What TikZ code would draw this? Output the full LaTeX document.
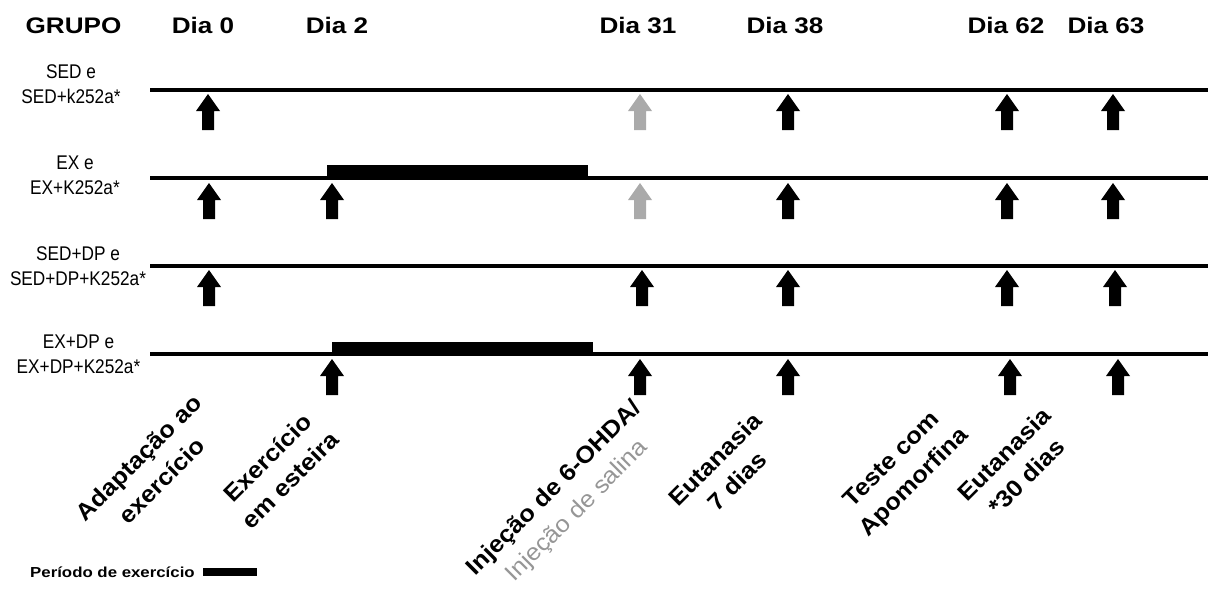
\documentclass[tikz,border=0pt]{standalone}
\usepackage{fontspec}
\setmainfont{Liberation Sans}
\newfontfamily\widefont[FakeStretch=1.16]{Liberation Sans}
\newfontfamily\rotfont[FakeStretch=1.08]{Liberation Sans}
\newfontfamily\narrowfont[FakeStretch=0.87]{Liberation Sans}
\definecolor{arrgray}{RGB}{170,170,170}
\definecolor{txtgray}{RGB}{150,150,150}
\tikzset{
  uparr/.pic={\fill[black] (0,0) -- (12,17) -- (6,17) -- (6,36) -- (-6,36) -- (-6,17) -- (-12,17) -- cycle;},
  uparrgray/.pic={\fill[arrgray] (0,0) -- (12,17) -- (6,17) -- (6,36) -- (-6,36) -- (-6,17) -- (-12,17) -- cycle;},
  hdr/.style={anchor=base,inner sep=0pt,font=\widefont\bfseries\fontsize{22.5}{27}\selectfont},
  grp/.style={align=center,inner sep=0pt,font=\narrowfont\fontsize{19.8}{25}\selectfont},
  rotlab/.style={rotate=45,align=center,inner sep=0pt,font=\rotfont\bfseries\fontsize{23.5}{32}\selectfont},
  tline/.style={line width=4pt},
  exbar/.style={fill=black}
}
\begin{document}
\begin{tikzpicture}[x=1pt,y=-1pt]
\useasboundingbox (0,0) rectangle (1208,592);
% header
\node[hdr] (hgrupo) at (73.5,33) {GRUPO};
\node[hdr] (h0) at (203,33) {Dia 0};
\node[hdr] (h2) at (337,33) {Dia 2};
\node[hdr] (h31) at (638,33) {Dia 31};
\node[hdr] (h38) at (785,33) {Dia 38};
\node[hdr] (h62) at (1006,33) {Dia 62};
\node[hdr] (h63) at (1106,33) {Dia 63};
% group labels
\node[grp] (g1) at (71,84.5) {SED e\\SED+k252a*};
\node[grp] (g2) at (75,175) {EX e\\EX+K252a*};
\node[grp] (g3) at (78,266.5) {SED+DP e\\SED+DP+K252a*};
\node[grp] (g4) at (78.5,354) {EX+DP e\\EX+DP+K252a*};
% timelines
\draw[tline] (150,90) -- (1208,90);
\draw[tline] (150,177.5) -- (1208,177.5);
\draw[tline] (150,265.5) -- (1208,265.5);
\draw[tline] (150,353.5) -- (1208,353.5);
% exercise bars
\fill[exbar] (327,165) rectangle (588,178);
\fill[exbar] (332,342) rectangle (593,353);
% arrows row 1
\pic at (208,94) {uparr};
\pic at (640,94) {uparrgray};
\pic at (788,94) {uparr};
\pic at (1007,94) {uparr};
\pic at (1113,94) {uparr};
% arrows row 2
\pic at (209,183) {uparr};
\pic at (332,183) {uparr};
\pic at (640,183) {uparrgray};
\pic at (788,183) {uparr};
\pic at (1007,183) {uparr};
\pic at (1113,183) {uparr};
% arrows row 3
\pic at (209,270) {uparr};
\pic at (642,270) {uparr};
\pic at (788,270) {uparr};
\pic at (1007,270) {uparr};
\pic at (1115,270) {uparr};
% arrows row 4
\pic at (332,359) {uparr};
\pic at (640,359) {uparr};
\pic at (788,359) {uparr};
\pic at (1010,359) {uparr};
\pic at (1118,359) {uparr};
% rotated labels
\node[rotlab] (l0) at (150,469) {Adaptação ao\\exercício};
\node[rotlab] (l2) at (279,469) {Exercício\\em esteira};
\node[rotlab] (l31) at (566,500) {Injeção de 6-OHDA/\\{\mdseries\color{txtgray}Injeção de salina}};
\node[rotlab] (l38) at (726,470) {Eutanasia\\7 dias};
\node[rotlab] (l62) at (904,472) {Teste com\\Apomorfina};
\node[rotlab] (l63) at (1015,465) {Eutanasia\\*30 dias};
% legend
\node[anchor=base west,inner sep=0pt,font=\widefont\bfseries\fontsize{14.5}{18}\selectfont] (leg) at (30,577) {Período de exercício};
\fill[exbar] (203,568) rectangle (257,576);
\end{tikzpicture}
\end{document}
